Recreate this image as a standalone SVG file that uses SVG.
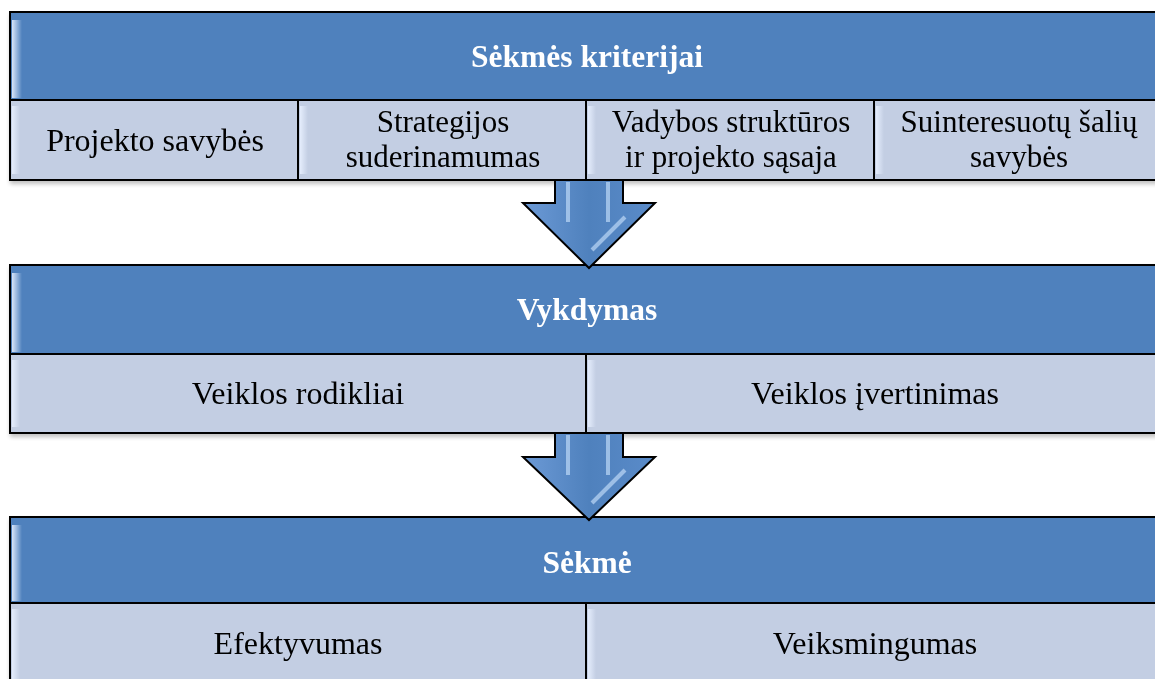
<svg xmlns="http://www.w3.org/2000/svg" width="1155" height="679" viewBox="0 0 1155 679">
<style>
.hdr{fill:#4F81BD;stroke:#000;stroke-width:2}
.sub{fill:#C3CEE3;stroke:#000;stroke-width:2}
.ht{font-family:"Liberation Serif",serif;font-weight:bold;font-size:31.5px;fill:#fff;text-anchor:middle}
.st{font-family:"Liberation Serif",serif;font-size:32px;fill:#000;text-anchor:middle}
.st2{font-family:"Liberation Serif",serif;font-size:31px;fill:#000;text-anchor:middle}
.arr{fill:url(#ag);stroke:#000;stroke-width:2;stroke-linejoin:miter}
.hl{fill:none;stroke:#CFE6FF;stroke-width:4;opacity:0.6}
</style>
<defs>
<linearGradient id="ag" x1="0" y1="0" x2="1" y2="0">
<stop offset="0" stop-color="#6C9AD6"/>
<stop offset="0.5" stop-color="#4F81BD"/>
<stop offset="1" stop-color="#5A8BC9"/>
</linearGradient>
<linearGradient id="lb" x1="0" y1="0" x2="1" y2="0">
<stop offset="0" stop-color="#E8F0FF" stop-opacity="0.9"/>
<stop offset="1" stop-color="#E8F0FF" stop-opacity="0"/>
</linearGradient>
<filter id="sh" x="-5%" y="-5%" width="110%" height="120%">
<feGaussianBlur in="SourceAlpha" stdDeviation="2"/>
<feOffset dx="1" dy="3"/>
<feComponentTransfer><feFuncA type="linear" slope="0.25"/></feComponentTransfer>
<feMerge><feMergeNode/><feMergeNode in="SourceGraphic"/></feMerge>
</filter>
</defs>

<g id="block1" filter="url(#sh)">
<rect class="hdr" x="10" y="12" width="1160" height="88"/>
<rect x="12" y="20" width="10" height="78" fill="url(#lb)"/>
<text class="ht" x="587" y="67">Sėkmės kriterijai</text>
<g id="b1c1"><rect class="sub" x="10" y="100" width="288" height="80"/><rect x="12" y="106" width="8" height="68" fill="url(#lb)"/><text class="st" x="155" y="151">Projekto savybės</text></g>
<g id="b1c2"><rect class="sub" x="298" y="100" width="288" height="80"/><rect x="300" y="106" width="8" height="68" fill="url(#lb)"/><text class="st2" x="443" y="132">Strategijos</text><text class="st2" x="443" y="167">suderinamumas</text></g>
<g id="b1c3"><rect class="sub" x="586" y="100" width="288" height="80"/><rect x="588" y="106" width="8" height="68" fill="url(#lb)"/><text class="st2" x="731" y="132">Vadybos struktūros</text><text class="st2" x="731" y="167">ir projekto sąsaja</text></g>
<g id="b1c4"><rect class="sub" x="874" y="100" width="290" height="80"/><rect x="876" y="106" width="8" height="68" fill="url(#lb)"/><text class="st2" x="1019" y="132">Suinteresuotų šalių</text><text class="st2" x="1019" y="167">savybės</text></g>
</g>

<g id="block2" filter="url(#sh)">
<rect class="hdr" x="10" y="265" width="1160" height="89"/>
<rect x="12" y="273" width="10" height="79" fill="url(#lb)"/>
<text class="ht" x="587" y="320">Vykdymas</text>
<g id="b2c1"><rect class="sub" x="10" y="354" width="576" height="79"/><rect x="12" y="360" width="8" height="67" fill="url(#lb)"/><text class="st" x="298" y="404">Veiklos rodikliai</text></g>
<g id="b2c2"><rect class="sub" x="586" y="354" width="580" height="79"/><rect x="588" y="360" width="8" height="67" fill="url(#lb)"/><text class="st" x="875" y="404">Veiklos įvertinimas</text></g>
</g>

<g id="block3" filter="url(#sh)">
<rect class="hdr" x="10" y="517" width="1160" height="86"/>
<rect x="12" y="525" width="10" height="76" fill="url(#lb)"/>
<text class="ht" x="587" y="573">Sėkmė</text>
<g id="b3c1"><rect class="sub" x="10" y="603" width="576" height="90"/><rect x="12" y="609" width="8" height="80" fill="url(#lb)"/><text class="st" x="298" y="654">Efektyvumas</text></g>
<g id="b3c2"><rect class="sub" x="586" y="603" width="580" height="90"/><rect x="588" y="609" width="8" height="80" fill="url(#lb)"/><text class="st" x="875" y="654">Veiksmingumas</text></g>
</g>

<g id="connectors">
<g id="arrow1">
<path class="arr" d="M555,180 L623,180 L623,203 L655,203 L589,268 L523,203 L555,203 Z"/>
<line class="hl" x1="568" y1="182" x2="568" y2="222"/>
<line class="hl" x1="608" y1="182" x2="608" y2="222"/>
<line class="hl" x1="592" y1="250" x2="625" y2="217"/>
</g>
<g id="arrow2">
<path class="arr" d="M555,433 L623,433 L623,457 L655,457 L589,520 L523,457 L555,457 Z"/>
<line class="hl" x1="568" y1="435" x2="568" y2="475"/>
<line class="hl" x1="608" y1="435" x2="608" y2="475"/>
<line class="hl" x1="592" y1="503" x2="625" y2="470"/>
</g>
</g>
</svg>
